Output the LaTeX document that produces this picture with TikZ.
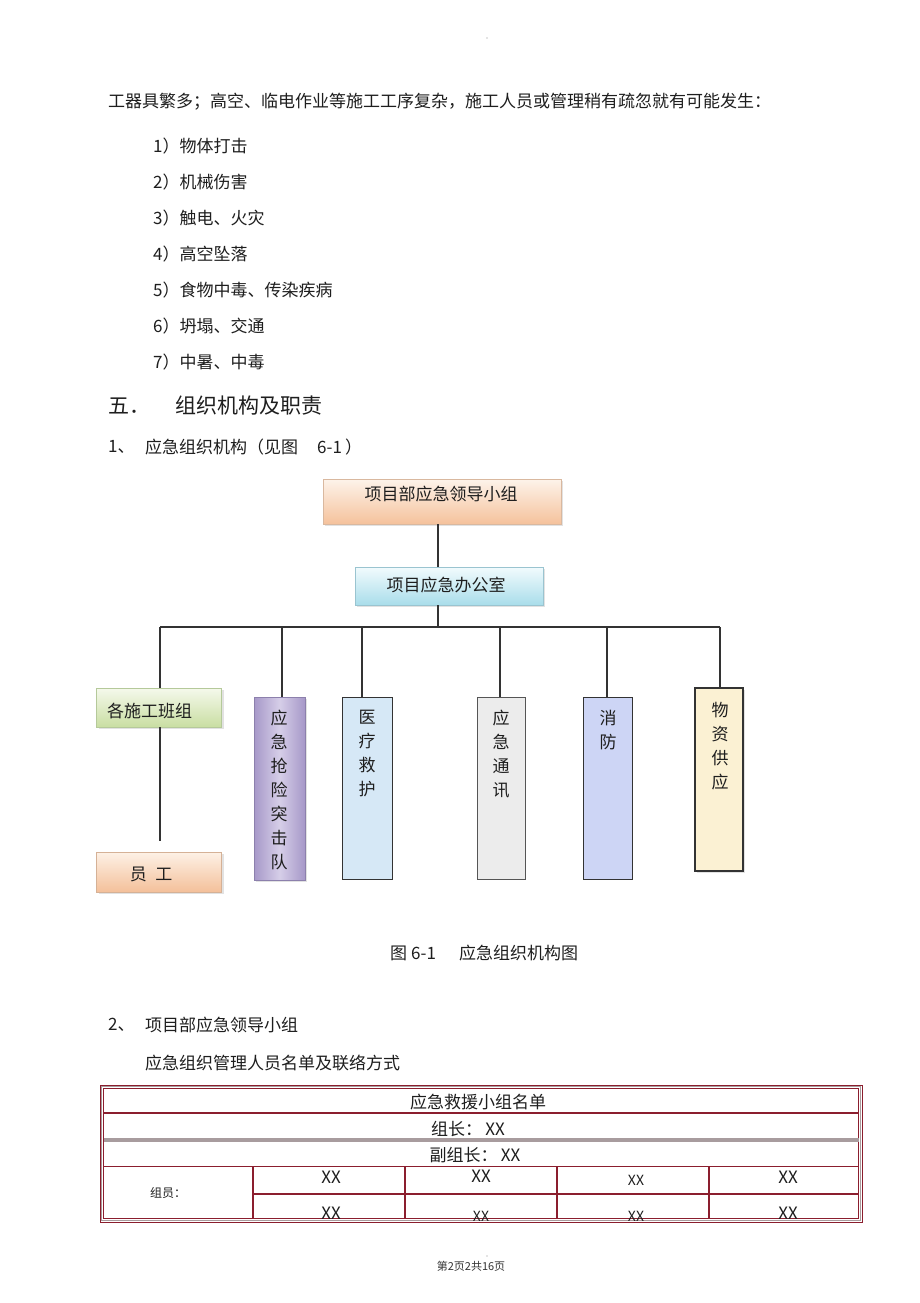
\documentclass[tikz,border=0pt]{standalone}
\usepackage{fontspec}
\setmainfont{Noto Sans CJK SC}
\usetikzlibrary{shadows}
\definecolor{txt}{HTML}{1E1E1E}
\definecolor{lnc}{HTML}{333333}
\definecolor{tred}{HTML}{8B1E2E}
\definecolor{tgray}{HTML}{A89C9E}
\definecolor{leadD}{HTML}{D9B89F}
\definecolor{leadT}{HTML}{FDF3EA}
\definecolor{leadB}{HTML}{F5C29C}
\definecolor{offD}{HTML}{9AC4D0}
\definecolor{offT}{HTML}{F2FBFD}
\definecolor{offB}{HTML}{A9DDEA}
\definecolor{teamD}{HTML}{B5C99A}
\definecolor{teamT}{HTML}{F5F9EC}
\definecolor{teamB}{HTML}{C9DEA2}
\definecolor{stD}{HTML}{D5B196}
\definecolor{stT}{HTML}{FDF1E6}
\definecolor{stB}{HTML}{F4C09A}
\definecolor{puD}{HTML}{8C80AC}
\definecolor{puE}{HTML}{A698C8}
\definecolor{puM}{HTML}{D6CEE8}
\definecolor{medF}{HTML}{D6E8F6}
\definecolor{comD}{HTML}{555555}
\definecolor{comF}{HTML}{ECECEC}
\definecolor{fireF}{HTML}{CDD5F5}
\definecolor{supF}{HTML}{FBF1D3}
\begin{document}
\begin{tikzpicture}[x=1pt,y=-1pt,
  every node/.style={inner sep=0pt,text=txt},
  t17/.style={font=\fontsize{17pt}{20pt}\selectfont},
  t21/.style={font=\fontsize{21pt}{24pt}\selectfont},
  t14/.style={font=\fontsize{14pt}{16pt}\selectfont},
  t12/.style={font=\fontsize{12pt}{14pt}\selectfont},
  t11/.style={font=\fontsize{11pt}{13pt}\selectfont},
  vtxt/.style={font=\fontsize{17pt}{24pt}\selectfont,align=center,anchor=north},
  shad/.style={drop shadow={shadow xshift=2pt,shadow yshift=-2pt,fill=black!22}},
  hbox/.style={draw=#1,line width=0.8pt,shad,rectangle},
  vbox/.style={draw=#1,line width=1pt,rectangle},
  conn/.style={draw=lnc,line width=1.3pt},
  connb/.style={draw=lnc,line width=2.2pt},
  tline/.style={draw=tred,line width=1.6pt},
]
\useasboundingbox[fill=white] (0,0) rectangle (920,1303);
\fill[black!45] (487,38) circle (0.7);
\fill[black!45] (487,1256) circle (0.7);

% body text
\node[t17,anchor=west] (p0) at (108,102) {工器具繁多；高空、临电作业等施工工序复杂，施工人员或管理稍有疏忽就有可能发生：};
\node[t17,anchor=west] (i1) at (153,146) {1）物体打击};
\node[t17,anchor=west] (i2) at (153,182) {2）机械伤害};
\node[t17,anchor=west] (i3) at (153,218) {3）触电、火灾};
\node[t17,anchor=west] (i4) at (153,254) {4）高空坠落};
\node[t17,anchor=west] (i5) at (153,290) {5）食物中毒、传染疾病};
\node[t17,anchor=west] (i6) at (153,326) {6）坍塌、交通};
\node[t17,anchor=west] (i7) at (153,362) {7）中暑、中毒};
\node[t21,anchor=west] (h5a) at (108,406) {五．};
\node[t21,anchor=west] (h5b) at (175,406) {组织机构及职责};
\node[t17,anchor=west] (s1a) at (108,447) {1、};
\node[t17,anchor=west] (s1b) at (145,447) {应急组织机构（见图};
\node[t17,anchor=west] (s1c) at (317,447) {6-1};
\node[t17,anchor=west] (s1d) at (345,447) {）};

% org chart boxes
\node[hbox=leadD,top color=leadT,bottom color=leadB,
  minimum width=238pt,minimum height=45pt] (lead) at (442,501.5) {};
\node[t17] (leadt) at (441,494) {项目部应急领导小组};
\node[hbox=offD,top color=offT,bottom color=offB,
  minimum width=188pt,minimum height=38pt] (office) at (449,586) {};
\node[t17] (officet) at (446,585) {项目应急办公室};
\node[hbox=teamD,top color=teamT,bottom color=teamB,
  minimum width=125pt,minimum height=39pt] (team) at (159,707.5) {};
\node[t17,anchor=west] (teamt) at (107,711) {各施工班组};
\node[hbox=stD,top color=stT,bottom color=stB,
  minimum width=125pt,minimum height=40pt] (staff) at (159,872) {};
\node[t17] (stafft) at (151,874) {员\hspace{0.5em}工};

\node[vbox=puD,shad,left color=puE,right color=puE,middle color=puM,
  minimum width=51pt,minimum height=183pt] (rescue) at (279.5,788.5) {};
\node[vtxt] (rescuet) at (279,709.5) {应\\急\\抢\\险\\突\\击\\队};
\node[vbox=lnc,fill=medF,minimum width=50pt,minimum height=182pt] (med) at (367,788) {};
\node[vtxt] (medt) at (367,709.5) {医\\疗\\救\\护};
\node[vbox=comD,fill=comF,minimum width=48pt,minimum height=182pt] (comm) at (501,788) {};
\node[vtxt] (commt) at (501,709.5) {应\\急\\通\\讯};
\node[vbox=lnc,fill=fireF,minimum width=49pt,minimum height=182pt] (fire) at (607.5,788) {};
\node[vtxt] (firet) at (608,709.5) {消\\防};
\node[vbox=lnc,line width=1.5pt,shad,fill=supF,minimum width=48pt,minimum height=183pt] (supply) at (719,779.5) {};
\node[vtxt] (supplyt) at (720,702.5) {物\\资\\供\\应};

% connectors
\coordinate (hub) at (438,627);
\coordinate (busL) at (160,627);
\coordinate (busR) at (720,627);
\coordinate (b2) at (282,627);
\coordinate (b3) at (362,627);
\coordinate (b4) at (500,627);
\coordinate (b5) at (607,627);
\coordinate (tEnd) at (160,841);
\draw[conn] (lead.south -| hub) -- (office.north -| hub);
\draw[connb] (office.south -| hub) -- (hub);
\draw[draw=lnc,line width=1.8pt] (busL) -- (busR);
\draw[connb] (busL) -- (busL |- team.north);
\draw[connb] (b2) -- (b2 |- rescue.north);
\draw[conn] (b3) -- (b3 |- med.north);
\draw[conn] (b4) -- (b4 |- comm.north);
\draw[conn] (b5) -- (b5 |- fire.north);
\draw[conn] (busR) -- (busR |- supply.north);
\draw[connb] (team.south -| tEnd) -- (tEnd);

% caption
\node[t17,anchor=west] (capa) at (390,953) {图};
\node[t17,anchor=west] (capb) at (411,953) {6-1};
\node[t17,anchor=west] (capc) at (459,953) {应急组织机构图};

\node[t17,anchor=west] (s2a) at (108,1025) {2、};
\node[t17,anchor=west] (s2b) at (145,1025) {项目部应急领导小组};
\node[t17,anchor=west] (s2c) at (145,1063) {应急组织管理人员名单及联络方式};

% table
\draw[draw=tred,line width=1pt] (100,1085) rectangle (862,1222);
\draw[draw=tgray,line width=1pt] (101.8,1086.8) rectangle (860.2,1220.2);
\draw[draw=tred,line width=1pt] (103.5,1088.5) rectangle (858.5,1218.5);
\draw[tline] (103.5,1113) -- (858.5,1113);
\draw[draw=tgray,line width=3.5pt] (103.5,1140) -- (858.5,1140);
\draw[tline] (103.5,1166.5) -- (858.5,1166.5);
\draw[tline] (253,1194) -- (858.5,1194);
\foreach \cx in {253,405,557,709} \draw[tline] (\cx,1166.5) -- (\cx,1218.5);
\node[t17] (th) at (478,1102) {应急救援小组名单};
\node[t17] (tl) at (468,1129) {组长：\hspace{0.2em}XX};
\node[t17] (td) at (475,1155) {副组长：\hspace{0.2em}XX};
\node[t12] (tm) at (168,1193) {组员：};
\node[t17] (m11) at (331,1177) {XX};
\node[t17] (m12) at (481,1176) {XX};
\node[t14] (m13) at (636,1180) {XX};
\node[t17] (m14) at (788,1177) {XX};
\node[t17] (m21) at (331,1213) {XX};
\node[t14] (m22) at (481,1216) {XX};
\node[t14] (m23) at (636,1216) {XX};
\node[t17] (m24) at (788,1213) {XX};

\node[t11,text=black!80] (foot) at (471,1266) {第2页2共16页};
\end{tikzpicture}
\end{document}
